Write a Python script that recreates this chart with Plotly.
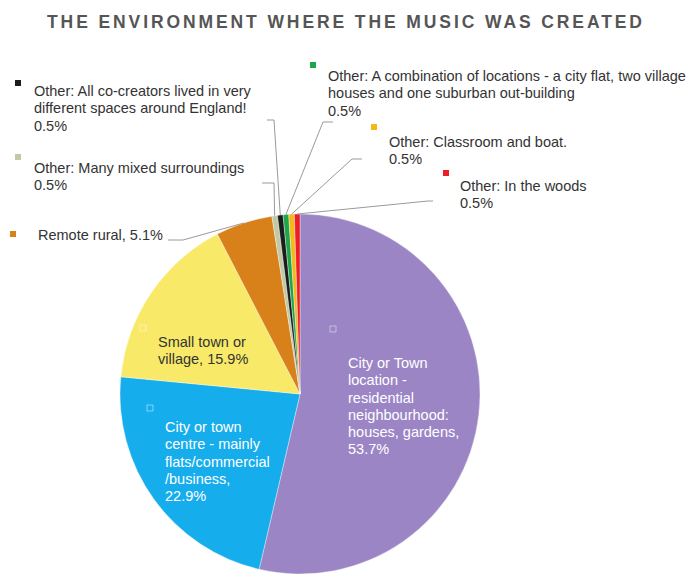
import math
import plotly.graph_objects as go

W, H = 697, 574

# --- data -------------------------------------------------------------
categories = [
    "City or Town location - residential neighbourhood: houses, gardens",
    "City or town centre - mainly flats/commercial /business",
    "Small town or village",
    "Remote rural",
    "Other: Many mixed surroundings",
    "Other: All co-creators lived in very different spaces around England!",
    "Other: A combination of locations - a city flat, two village houses and one suburban out-building",
    "Other: Classroom and boat.",
    "Other: In the woods",
]
values = [53.7, 22.9, 15.9, 5.1, 0.5, 0.5, 0.5, 0.5, 0.5]
colors = ["#9b85c5", "#16aded", "#f8ea68", "#d8801a", "#c1caa3",
          "#1c1c1c", "#1ea64a", "#f5b81a", "#ec1d24"]

# wrapped label text and the separator before the percentage
wrapped = [
    "City or Town\nlocation -\nresidential\nneighbourhood:\nhouses, gardens",
    "City or town\ncentre - mainly\nflats/commercial\n/business",
    "Small town or\nvillage",
    "Remote rural",
    "Other: Many mixed surroundings",
    "Other: All co-creators lived in very\ndifferent spaces around England!",
    "Other: A combination of locations - a city flat, two village\nhouses and one suburban out-building",
    "Other: Classroom and boat.",
    "Other: In the woods",
]
separators = [",\n", ",\n", ", ", ", ", "\n", "\n", "\n", "\n", "\n"]

# --- layout (pixels) ---------------------------------------------------
CX, CY, R = 300, 394, 180          # pie centre / radius
LINE_H = 17.3
FONT = "Liberation Sans, Arial, sans-serif"

# (text left x, first line centre y, text colour, key square (x, y) or None, key style)
label_pos = [
    (346, 363, "white", (333, 329), "open"),
    (163, 427, "white", (150, 408), "open"),
    (156, 342, "#333333", (143, 328), "open"),
    (36, 235, "#333333", (13, 234), "fill"),
    (32, 168, "#333333", (18, 157), "fill"),
    (32, 91, "#333333", (18, 83), "fill"),
    (326, 76, "#333333", (313, 65), "fill"),
    (387, 142, "#333333", (374, 127), "fill"),
    (458, 186, "#333333", (446, 173), "fill"),
]
# leader lines for the outside labels: elbow point, then end point
leaders = {
    3: [(183, 240), (168, 240)],
    4: [(274, 183), (262, 183)],
    5: [(274, 120), (267, 120)],
    6: [(323, 122), (333, 122)],
    7: [(352, 159), (362, 159)],
    8: [(428, 201), (433, 201)],
}


def px(x, y):
    return x / W, 1 - y / H


fig = go.Figure()
fig.add_trace(go.Pie(
    labels=categories,
    values=values,
    sort=False,
    direction="clockwise",
    rotation=0,
    marker=dict(colors=colors, line=dict(color="rgba(255,255,255,0.6)", width=0.6)),
    textinfo="none",
    hoverinfo="label+percent",
    showlegend=False,
    domain=dict(x=[(CX - R) / W, (CX + R) / W], y=[1 - (CY + R) / H, 1 - (CY - R) / H]),
))

annotations = []
shapes = []

# title with wide letter spacing
tx, ty = px(45, 22)
annotations.append(dict(
    text='<span style="letter-spacing:2.9px"><b>THE ENVIRONMENT WHERE THE MUSIC WAS CREATED</b></span>',
    x=tx, y=ty, xref="paper", yref="paper", xanchor="left", yanchor="middle",
    showarrow=False, font=dict(family=FONT, size=17.5, color="#555555"),
))

total = sum(values)
cum = 0.0
for i, (name, v) in enumerate(zip(wrapped, values)):
    mid = (cum + v / 2) / total * 2 * math.pi
    cum += v
    text = name + separators[i] + f"{v}%"
    lx, ly, tcol, key, kstyle = label_pos[i]
    for j, line in enumerate(text.split("\n")):
        ax, ay = px(lx, ly + j * LINE_H)
        annotations.append(dict(
            text=line, x=ax, y=ay, xref="paper", yref="paper",
            xanchor="left", yanchor="middle", showarrow=False,
            font=dict(family=FONT, size=14.5, color=tcol),
        ))
    # legend key square
    kx, ky = key
    x0, y0 = px(kx - 3, ky - 3)
    x1, y1 = px(kx + 3, ky + 3)
    if kstyle == "fill":
        shapes.append(dict(type="rect", xref="paper", yref="paper",
                           x0=x0, y0=y0, x1=x1, y1=y1,
                           fillcolor=colors[i], line=dict(width=0)))
    else:
        shapes.append(dict(type="rect", xref="paper", yref="paper",
                           x0=x0, y0=y0, x1=x1, y1=y1,
                           fillcolor="rgba(0,0,0,0)",
                           line=dict(color="rgba(255,255,255,0.45)", width=1)))
    # leader line from the slice edge
    if i in leaders:
        sx = CX + R * math.sin(mid)
        sy = CY - R * math.cos(mid)
        pts = [(sx, sy)] + leaders[i]
        path = "M " + " L ".join(f"{px(a, b)[0]},{px(a, b)[1]}" for a, b in pts)
        shapes.append(dict(type="path", xref="paper", yref="paper", path=path,
                           line=dict(color="#9a9a9a", width=1)))

fig.update_layout(
    width=W, height=H,
    margin=dict(l=0, r=0, t=0, b=0),
    paper_bgcolor="white", plot_bgcolor="white",
    annotations=annotations, shapes=shapes,
)

fig.write_html("out.html")
